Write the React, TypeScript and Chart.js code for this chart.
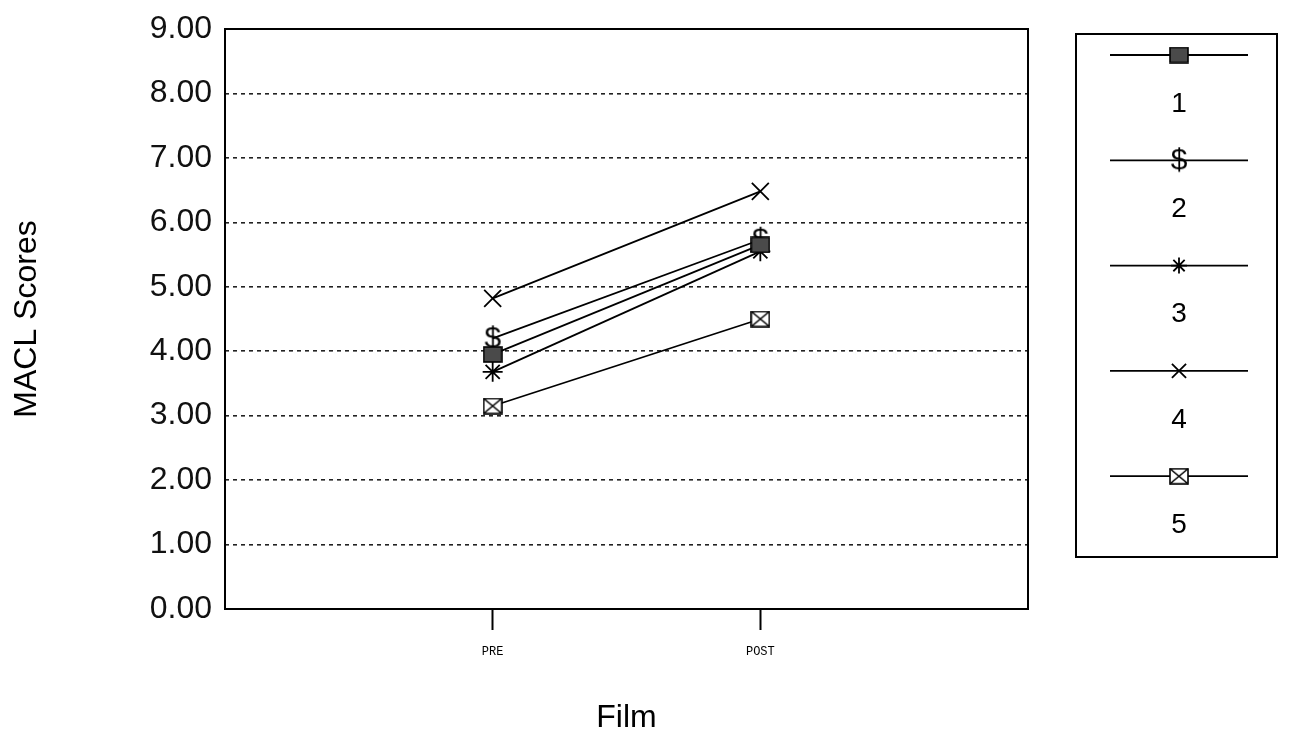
import React, { useEffect, useRef } from "react";
import { Chart, registerables } from "chart.js";

Chart.register(...registerables);

const categories = ["PRE", "POST"];
const seriesNames = ["1", "2", "3", "4", "5"];
const series1 = [3.95, 5.65];
const series2 = [4.2, 5.73];
const series3 = [3.68, 5.55];
const series4 = [4.82, 6.48];
const series5 = [3.15, 4.5];
const yTicks = [0, 1, 2, 3, 4, 5, 6, 7, 8, 9];

const FONT = "'Liberation Sans', Arial, sans-serif";

function makeMarker(w: number, h: number, draw: (g: CanvasRenderingContext2D) => void) {
  const c = document.createElement("canvas");
  c.width = w;
  c.height = h;
  const g = c.getContext("2d")!;
  draw(g);
  return c;
}

export default function App() {
  const ref = useRef<HTMLCanvasElement | null>(null);

  useEffect(() => {
    const filledSquare = makeMarker(20, 17, (g) => {
      g.fillStyle = "#4a4a4a";
      g.fillRect(1, 1, 18, 15);
      g.strokeStyle = "#000";
      g.lineWidth = 1.6;
      g.strokeRect(1, 1, 18, 15);
    });
    const dollar = makeMarker(26, 36, (g) => {
      g.fillStyle = "#000";
      g.font = `30px ${FONT}`;
      g.textAlign = "center";
      g.textBaseline = "middle";
      g.fillText("$", 13, 19);
    });
    const boxX = makeMarker(20, 17, (g) => {
      g.fillStyle = "#fff";
      g.fillRect(1, 1, 18, 15);
      g.strokeStyle = "#000";
      g.lineWidth = 1.6;
      g.strokeRect(1, 1, 18, 15);
      g.beginPath();
      g.moveTo(1, 1);
      g.lineTo(19, 16);
      g.moveTo(19, 1);
      g.lineTo(1, 16);
      g.stroke();
    });

    const styles: any[] = [filledSquare, dollar, "star", "crossRot", boxX];
    const radii = [8, 8, 10, 12, 8];
    const values = [series1, series2, series3, series4, series5];

    const datasets = values.map((vals, si) => ({
      label: seriesNames[si],
      data: categories.map((_, i) => ({ x: i + 1, y: vals[i] })),
      borderColor: "#000",
      backgroundColor: "#000",
      borderWidth: 1.8,
      pointStyle: styles[si],
      pointRadius: radii[si],
      pointBorderWidth: 1.8,
      pointBorderColor: "#000",
      pointBackgroundColor: "#000",
      showLine: true,
      fill: false,
    }));

    const frameAndLegend = {
      id: "frameAndLegend",
      afterDraw(chart: any) {
        const { ctx, chartArea } = chart;
        ctx.save();
        ctx.strokeStyle = "#000";
        ctx.lineWidth = 2;
        ctx.setLineDash([]);
        ctx.strokeRect(chartArea.left, chartArea.top, chartArea.right - chartArea.left, chartArea.bottom - chartArea.top);

        // legend box
        const bx = 1068, by = 26, bw = 201, bh = 523;
        ctx.strokeRect(bx, by, bw, bh);
        const lineY0 = 47, step = 105.3;
        const cx = 1171;
        seriesNames.forEach((name, i) => {
          const ly = lineY0 + i * step;
          ctx.lineWidth = 1.8;
          ctx.beginPath();
          ctx.moveTo(1102, ly);
          ctx.lineTo(1240, ly);
          ctx.stroke();
          const st = styles[i];
          if (typeof st === "string") {
            ctx.lineWidth = 1.8;
            ctx.beginPath();
            const r = radii[i] - 2;
            if (st === "crossRot") {
              const d = r * Math.SQRT1_2;
              ctx.moveTo(cx - d, ly - d); ctx.lineTo(cx + d, ly + d);
              ctx.moveTo(cx + d, ly - d); ctx.lineTo(cx - d, ly + d);
            } else {
              const d = r * Math.SQRT1_2;
              ctx.moveTo(cx - d, ly - d); ctx.lineTo(cx + d, ly + d);
              ctx.moveTo(cx + d, ly - d); ctx.lineTo(cx - d, ly + d);
              ctx.moveTo(cx, ly - r); ctx.lineTo(cx, ly + r);
              ctx.moveTo(cx - r, ly); ctx.lineTo(cx + r, ly);
            }
            ctx.stroke();
          } else {
            ctx.drawImage(st, cx - st.width / 2, ly - st.height / 2);
          }
          ctx.fillStyle = "#000";
          ctx.font = `28px ${FONT}`;
          ctx.textAlign = "center";
          ctx.textBaseline = "middle";
          ctx.fillText(name, cx, ly + 49);
        });
        ctx.restore();
      },
    };

    const chart = new Chart(ref.current!, {
      type: "scatter",
      data: { datasets },
      plugins: [frameAndLegend],
      options: {
        animation: false,
        responsive: true,
        maintainAspectRatio: false,
        layout: { padding: { left: 0, right: 253, top: 21, bottom: 0 } },
        plugins: { legend: { display: false }, tooltip: { enabled: false } },
        scales: {
          x: {
            type: "linear",
            min: 0,
            max: 3,
            afterFit: (s: any) => { s.height = 126; s.paddingLeft = 0; s.paddingRight = 0; },
            afterBuildTicks: (s: any) => { s.ticks = categories.map((_, i) => ({ value: i + 1 })); },
            ticks: {
              callback: (v: any) => categories[Number(v) - 1] ?? "",
              font: { family: "'Liberation Mono', 'Courier New', monospace", size: 12 },
              color: "#000",
              padding: 15,
              maxRotation: 0,
            },
            grid: {
              drawOnChartArea: false,
              drawTicks: true,
              tickLength: 21,
              tickColor: "#000",
              tickWidth: 2,
              color: "#000",
            },
            border: { display: false },
            title: {
              display: true,
              text: "Film",
              font: { family: FONT, size: 32, lineHeight: 1 },
              color: "#000",
              padding: { top: 0, bottom: 1 },
            },
          },
          y: {
            min: 0,
            max: 9,
            afterFit: (s: any) => { s.width = 217; s.paddingTop = 0; s.paddingBottom = 0; },
            afterBuildTicks: (s: any) => { s.ticks = yTicks.map((v) => ({ value: v })); },
            ticks: {
              callback: (v: any) => Number(v).toFixed(2),
              font: { family: FONT, size: 32 },
              color: "#111",
              padding: 13,
            },
            grid: {
              drawTicks: false,
              color: (c: any) => (c.tick && (c.tick.value === 0 || c.tick.value === 9) ? "rgba(0,0,0,0)" : "#222"),
              lineWidth: 1.6,
            },
            border: { display: false, dash: [4, 4] },
            title: {
              display: true,
              text: "MACL Scores",
              font: { family: FONT, size: 32, lineHeight: 1 },
              color: "#000",
              padding: { top: 3, bottom: 0 },
            },
          },
        },
      },
    });
    return () => chart.destroy();
  }, []);

  return (
    <div style={{ position: "relative", width: "1273px", height: "727px" }}>
      <canvas ref={ref} />
    </div>
  );
}
